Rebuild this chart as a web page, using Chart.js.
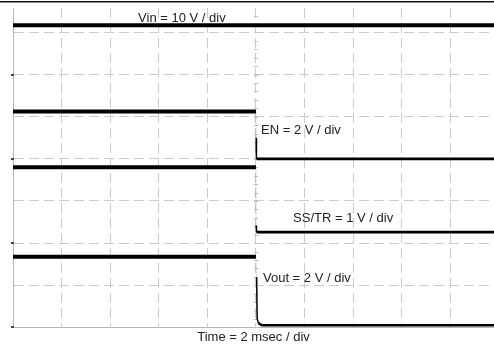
<!DOCTYPE html>
<html><head><meta charset="utf-8">
<script src="https://cdn.jsdelivr.net/npm/chart.js@4"></script>
<style>html,body{margin:0;padding:0;background:#fff;overflow:hidden}#wrap{width:494px;height:345px}</style>
</head><body><div id="wrap"><canvas id="c" width="494" height="345"></canvas></div>
<script>
// ---- data (time in ms, amplitude in volts) ----
const channelLabels = ['Vin = 10 V / div', 'EN = 2 V / div', 'SS/TR = 1 V / div', 'Vout = 2 V / div'];
const voltsPerDiv = [10, 2, 1, 2];
const groundDiv = [6, 4, 2, 0];
const stepTime = 10;

const vinTime = [0, 19.8];
const vinVolts = [11.7, 11.7];
const enTime = [0, 10, 10.01, 10.02, 19.8];
const enVolts = [2.25, 2.25, 1.0, 0, 0];
const ssTime = [0, 10, 10.01, 10.02, 19.8];
const ssVolts = [1.8, 1.8, 0.42, 0.26, 0.26];
const voutTime = [0, 10, 10.03, 10.05, 10.1, 10.25, 19.8];
const voutVolts = [3.35, 3.35, 2.38, 0.43, 0.2, 0.1, 0.1];

const timeTicks = [0, 2, 4, 6, 8, 10, 12, 14, 16, 18];
const divTicks = [0, 1, 2, 3, 4, 5, 6, 7];
const xAxisTitle = 'Time = 2 msec / div';

// label anchors (ms, div)
const labelTime = [5.15, 10.21, 11.53, 10.29];
const labelDiv = [7.34, 4.68, 2.59, 1.16];

const traceTimes = [vinTime, enTime, ssTime, voutTime];
const traceVolts = [vinVolts, enVolts, ssVolts, voutVolts];

function toPoints(ch) {
  return traceTimes[ch].map((t, i) => ({ x: t, y: groundDiv[ch] + traceVolts[ch][i] / voltsPerDiv[ch] }));
}

const segStyle = {
  borderColor: ctx => (ctx.p0.parsed.x === stepTime && ctx.p1.parsed.x > stepTime) ? 'rgba(0,0,0,0.12)' : '#000',
  borderWidth: ctx => {
    const x0 = ctx.p0.parsed.x, x1 = ctx.p1.parsed.x;
    if (x0 === stepTime && x1 > stepTime) return 1;
    if (x0 >= stepTime && x1 - x0 < 0.06) return 1.5;
    if (x0 < stepTime) return 4;
    return 2.6;
  }
};

const datasets = [0, 1, 2, 3].map(ch => ({
  label: channelLabels[ch],
  data: toPoints(ch),
  borderColor: '#000',
  borderWidth: 4,
  pointRadius: 0,
  tension: 0,
  fill: false,
  segment: segStyle
}));

const font13 = { family: '"Liberation Sans", Arial, sans-serif', size: 13 };

const scopePlugin = {
  id: 'scope',
  beforeDatasetsDraw(chart) {
    const { ctx, chartArea, scales } = chart;
    ctx.save();
    // frame line at top of figure
    ctx.fillStyle = '#111';
    ctx.fillRect(0, 1, chart.width, 1.5);
    // faint minor ticks on centre vertical
    ctx.fillStyle = '#c4c4c4';
    const cx = scales.x.getPixelForValue(stepTime);
    for (let d = 0; d <= 7.58; d += 0.2) {
      const y = scales.y.getPixelForValue(d);
      ctx.fillRect(cx - 2, Math.round(y), 4, 1);
    }
    // ground markers
    ctx.fillStyle = '#444';
    groundDiv.forEach(g => {
      const y = scales.y.getPixelForValue(g);
      ctx.fillRect(chartArea.left - 2, Math.round(y) - 1, 3, 2);
    });
    ctx.restore();
  },
  afterDatasetsDraw(chart) {
    const { ctx, scales } = chart;
    ctx.save();
    ctx.font = '13px "Liberation Sans", Arial, sans-serif';
    ctx.fillStyle = '#222';
    ctx.textAlign = 'left';
    ctx.textBaseline = 'middle';
    channelLabels.forEach((txt, i) => {
      ctx.fillText(txt, scales.x.getPixelForValue(labelTime[i]), scales.y.getPixelForValue(labelDiv[i]));
    });
    ctx.restore();
  }
};

new Chart(document.getElementById('c'), {
  type: 'line',
  data: { datasets },
  options: {
    responsive: false,
    animation: false,
    events: [],
    layout: { padding: { left: 13, top: 8, right: 0, bottom: 0 } },
    plugins: { legend: { display: false }, tooltip: { enabled: false }, title: { display: false } },
    scales: {
      x: {
        type: 'linear', min: 0, max: 19.8,
        afterBuildTicks: s => { s.ticks = timeTicks.map(v => ({ value: v })); },
        ticks: { display: false },
        grid: { color: '#cbcbcb', lineWidth: 1, drawTicks: false },
        border: { display: true, color: '#b4b4b4', width: 1, dash: [10, 5] },
        title: { display: true, text: xAxisTitle, color: '#222', font: font13, padding: { top: 2, bottom: 0 } }
      },
      y: {
        type: 'linear', min: 0, max: 7.58,
        afterBuildTicks: s => { s.ticks = divTicks.map(v => ({ value: v })); },
        ticks: { display: false },
        grid: { color: '#cbcbcb', lineWidth: 1, drawTicks: false },
        border: { display: true, color: '#b4b4b4', width: 1, dash: [10, 5] }
      }
    }
  },
  plugins: [scopePlugin]
});
</script>
</body></html>
